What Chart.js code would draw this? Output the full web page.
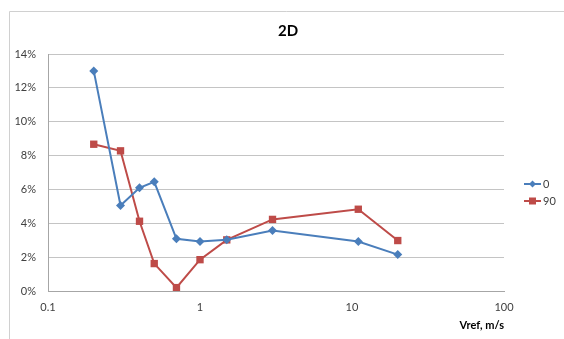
<!DOCTYPE html>
<html>
<head>
<meta charset="utf-8">
<script src="https://cdn.jsdelivr.net/npm/chart.js@4/dist/chart.umd.min.js"></script>
<style>
  html, body { margin: 0; padding: 0; background: #ffffff; }
  #wrap { width: 564px; height: 339px; position: relative; }
</style>
</head>
<body>
<div id="wrap"><canvas id="c" width="564" height="339"></canvas></div>
<script>
// Reference velocity, m/s
const vref = [0.2, 0.3, 0.4, 0.5, 0.7, 1, 1.5, 3, 11, 20];
// Deviation in percent for the two orientations
const series0 = [13.0, 5.05, 6.1, 6.45, 3.08, 2.92, 3.03, 3.58, 2.92, 2.15];
const series90 = [8.67, 8.28, 4.12, 1.62, 0.2, 1.85, 3.02, 4.23, 4.83, 2.98];
const seriesNames = ['0', '90'];
const xTicks = [0.1, 1, 10, 100];
const yTicks = [0, 2, 4, 6, 8, 10, 12, 14];

const FONT = 'Lato, "Open Sans", sans-serif';
const TEXT = '#404040';
const GRID = '#c4c4c4';

const toPoints = (ys) => vref.map((x, i) => ({ x: x, y: ys[i] }));

// Outer frame lines and a line+marker legend on the right
const framePlugin = {
  id: 'frame',
  beforeDraw(chart) {
    const ctx = chart.ctx;
    ctx.save();
    ctx.fillStyle = '#ffffff';
    ctx.fillRect(0, 0, chart.width, chart.height);
    ctx.strokeStyle = '#d0d0d0';
    ctx.lineWidth = 1;
    ctx.beginPath();
    ctx.moveTo(9.5, chart.height);
    ctx.lineTo(9.5, 11.5);
    ctx.lineTo(chart.width, 11.5);
    ctx.stroke();
    ctx.restore();
  },
  afterDraw(chart) {
    const ctx = chart.ctx;
    ctx.save();
    chart.data.datasets.forEach((ds, i) => {
      const y = 184 + i * 17;
      const x0 = 524, x1 = 541, xm = (x0 + x1) / 2;
      ctx.strokeStyle = ds.borderColor;
      ctx.lineWidth = 2;
      ctx.beginPath();
      ctx.moveTo(x0, y);
      ctx.lineTo(x1, y);
      ctx.stroke();
      ctx.fillStyle = ds.pointBackgroundColor;
      ctx.beginPath();
      if (ds.pointStyle === 'rectRot') {
        const r = 3.5;
        ctx.moveTo(xm, y - r); ctx.lineTo(xm + r, y); ctx.lineTo(xm, y + r); ctx.lineTo(xm - r, y);
        ctx.closePath();
      } else {
        ctx.rect(xm - 3.5, y - 3.5, 7, 7);
      }
      ctx.fill();
      ctx.fillStyle = TEXT;
      ctx.font = '11px ' + FONT;
      ctx.textBaseline = 'middle';
      ctx.textAlign = 'left';
      ctx.fillText(ds.label, x1 + 2, y);
    });
    ctx.restore();
  }
};

new Chart(document.getElementById('c'), {
  type: 'scatter',
  data: {
    datasets: [
      {
        label: seriesNames[0],
        data: toPoints(series0),
        showLine: true,
        borderColor: '#4a7ebb',
        backgroundColor: '#4a7ebb',
        pointBackgroundColor: '#4a7ebb',
        pointBorderColor: '#4a7ebb',
        pointBorderWidth: 0,
        pointStyle: 'rectRot',
        pointRadius: 4.5,
        borderWidth: 2,
        tension: 0
      },
      {
        label: seriesNames[1],
        data: toPoints(series90),
        showLine: true,
        borderColor: '#be4b48',
        backgroundColor: '#be4b48',
        pointBackgroundColor: '#be4b48',
        pointBorderColor: '#be4b48',
        pointBorderWidth: 0,
        pointStyle: 'rect',
        pointRadius: 5.2,
        borderWidth: 2,
        tension: 0
      }
    ]
  },
  options: {
    responsive: false,
    animation: false,
    devicePixelRatio: 1,
    layout: { padding: { left: 12, right: 0, top: 0, bottom: 0 } },
    plugins: {
      legend: { display: false },
      tooltip: { enabled: false },
      title: {
        display: true,
        text: '2D',
        color: '#000000',
        font: { family: FONT, size: 15, weight: 'bold' },
        padding: { top: 22, bottom: 14 }
      }
    },
    scales: {
      x: {
        type: 'logarithmic',
        min: 0.1,
        max: 100,
        afterBuildTicks(scale) {
          scale.ticks = xTicks.map(v => ({ value: v }));
        },
        afterFit(scale) { scale.height = 48; },
        ticks: {
          color: TEXT,
          font: { family: FONT, size: 11 },
          padding: 10,
          maxRotation: 0,
          callback: (v) => String(v)
        },
        grid: { display: false, drawTicks: false },
        border: { display: true, color: '#a6a6a6', width: 1 },
        title: {
          display: true,
          text: 'Vref, m/s',
          align: 'end',
          color: '#000000',
          font: { family: FONT, size: 11, weight: 'bold' },
          padding: { top: 0, bottom: 7 }
        }
      },
      y: {
        min: 0,
        max: 14,
        afterBuildTicks(scale) {
          scale.ticks = yTicks.map(v => ({ value: v }));
        },
        afterFit(scale) { scale.width = 36; },
        ticks: {
          color: TEXT,
          font: { family: FONT, size: 11 },
          padding: 12,
          callback: (v) => v + '%'
        },
        grid: { color: GRID, lineWidth: 1, drawTicks: false },
        border: { display: true, color: '#a6a6a6', width: 1 }
      },
      // empty right-hand strip that leaves room for the legend
      legendSpace: {
        type: 'linear',
        position: 'right',
        display: true,
        afterFit(scale) { scale.width = 60; },
        ticks: { display: false },
        grid: { display: false, drawTicks: false },
        border: { display: false }
      }
    }
  },
  plugins: [framePlugin]
});
</script>
</body>
</html>
